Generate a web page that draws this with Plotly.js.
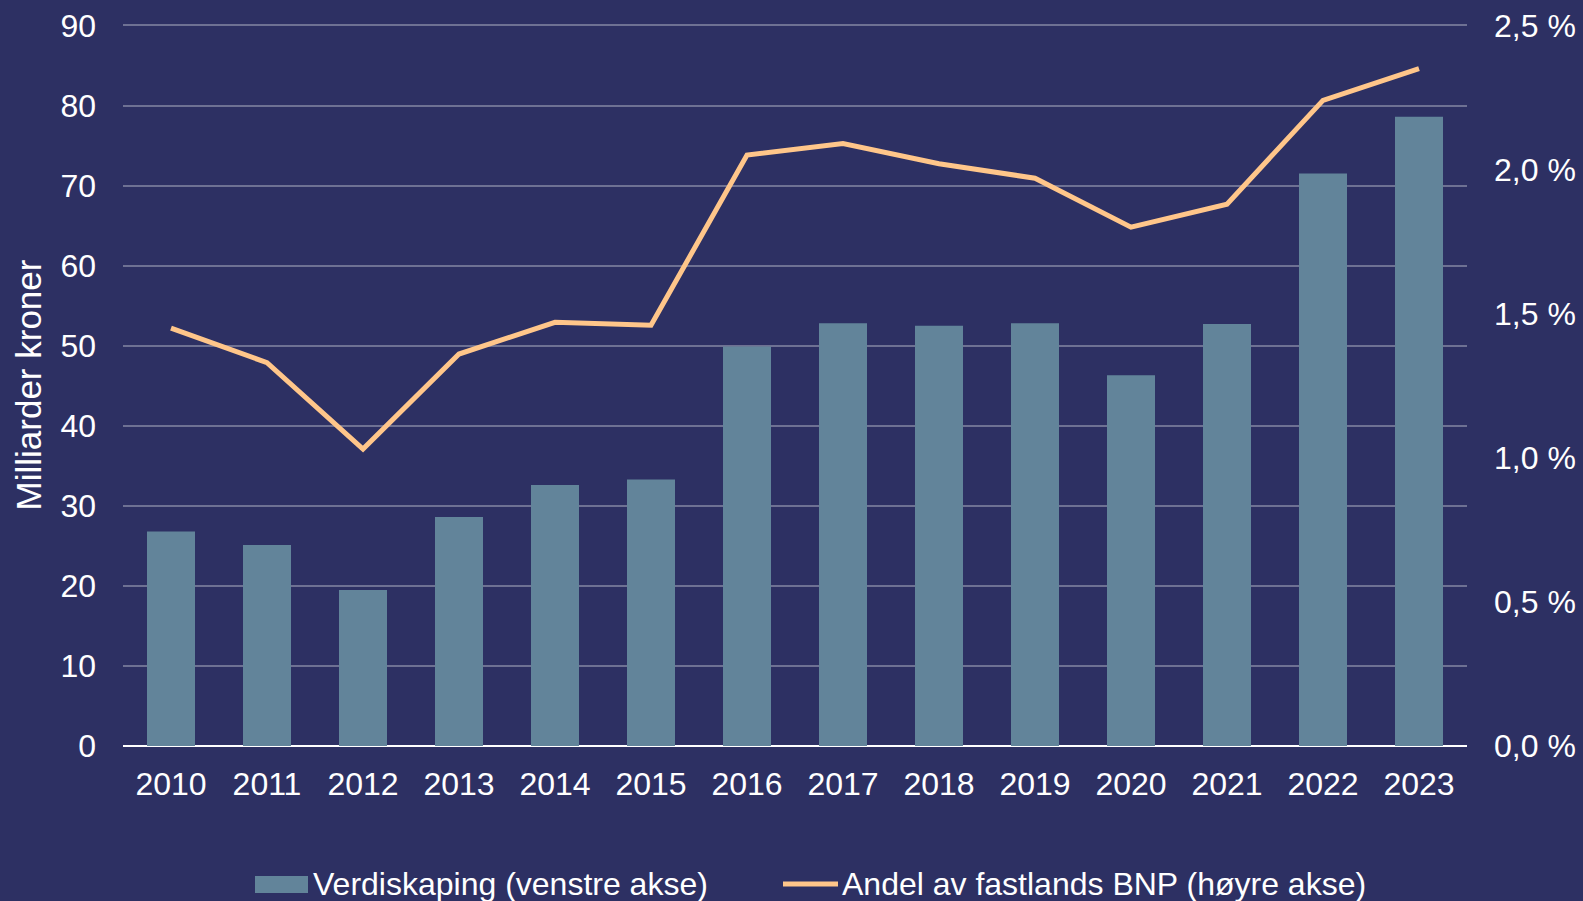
<!DOCTYPE html>
<html>
<head>
<meta charset="utf-8">
<script src="https://cdn.plot.ly/plotly-3.0.1.min.js"></script>
<style>html,body{margin:0;padding:0;background:#2D3063;}#chart{width:1583px;height:901px;}</style>
</head>
<body>
<div id="chart"></div>
<script>
var years = ["2010","2011","2012","2013","2014","2015","2016","2017","2018","2019","2020","2021","2022","2023"];
var verdiskaping = [26.8, 25.1, 19.5, 28.6, 32.6, 33.3, 49.9, 52.8, 52.5, 52.8, 46.3, 52.7, 71.5, 78.6];
var andelBNP = [1.45, 1.33, 1.03, 1.36, 1.47, 1.46, 2.05, 2.09, 2.02, 1.97, 1.80, 1.88, 2.24, 2.35];
var leftTicks = [0,10,20,30,40,50,60,70,80,90];
var rightTicks = [0,0.5,1.0,1.5,2.0,2.5];
var rightTickText = ["0,0 %","0,5 %","1,0 %","1,5 %","2,0 %","2,5 %"];
var barName = "Verdiskaping (venstre akse)";
var lineName = "Andel av fastlands BNP (høyre akse)";
var yTitle = "Milliarder kroner";

var BG = "#2D3063", BAR = "#62849A", LINE = "#FFC68A", GRID = "#6E7193";
var FONT = "Liberation Sans, Arial, sans-serif";

var traces = [
  {type:"bar", x:years, y:verdiskaping, name:barName, marker:{color:BAR}, yaxis:"y", hoverinfo:"x+y"},
  {type:"scatter", mode:"lines", x:years, y:andelBNP, name:lineName, line:{color:LINE, width:5}, yaxis:"y2"}
];

var L = 123, R = 1467, T = 24, B = 746;
var W = R - L, H = B - T;
function px(x){ return (x - L) / W; }
function py(y){ return (B - y) / H; }
var topPad = 1.002;

var layout = {
  width:1583, height:901,
  paper_bgcolor:BG, plot_bgcolor:BG,
  margin:{l:L, r:1583-R, t:T, b:901-B, pad:0},
  font:{family:FONT, color:"#FFFFFF", size:32},
  showlegend:false,
  bargap:0.5,
  xaxis:{type:"category", showgrid:false, zeroline:false, showline:false, ticks:"", tickfont:{size:32, color:"#FFFFFF"}, ticklabelstandoff:16, automargin:false},
  yaxis:{range:[0,90*topPad], tickvals:leftTicks, showgrid:true, gridcolor:GRID, gridwidth:2, zeroline:true, zerolinecolor:"#FFFFFF", zerolinewidth:2,
         showline:false, ticks:"", tickfont:{size:32, color:"#FFFFFF"}, ticklabelstandoff:26, automargin:false,
         title:{text:yTitle, font:{size:35, color:"#FFFFFF"}, standoff:8}},
  yaxis2:{range:[0,2.5*topPad], overlaying:"y", side:"right", tickvals:rightTicks, ticktext:rightTickText, showgrid:false, zeroline:false,
          showline:false, ticks:"", tickfont:{size:32, color:"#FFFFFF"}, ticklabelstandoff:26, automargin:false},
  shapes:[
    {type:"rect", xref:"paper", yref:"paper", x0:px(255), x1:px(308), y0:py(893), y1:py(876), fillcolor:BAR, line:{width:0}},
    {type:"line", xref:"paper", yref:"paper", x0:px(783), x1:px(838), y0:py(884), y1:py(884), line:{color:LINE, width:5}}
  ],
  annotations:[
    {xref:"paper", yref:"paper", x:px(311), y:py(884), xanchor:"left", yanchor:"middle", text:barName, showarrow:false, font:{size:32, color:"#FFFFFF"}},
    {xref:"paper", yref:"paper", x:px(840), y:py(884), xanchor:"left", yanchor:"middle", text:lineName, showarrow:false, font:{size:32, color:"#FFFFFF"}}
  ]
};

Plotly.newPlot("chart", traces, layout, {displayModeBar:false, staticPlot:true});
</script>
</body>
</html>
